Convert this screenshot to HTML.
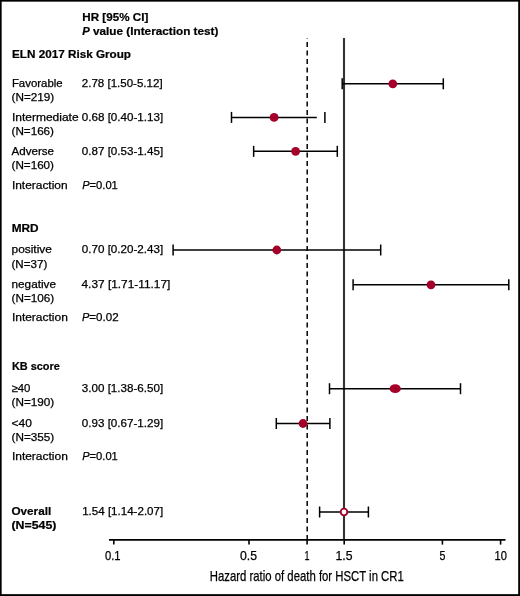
<!DOCTYPE html>
<html><head><meta charset="utf-8"><style>
html,body{margin:0;padding:0;background:#fff;}
svg{display:block;will-change:transform;}
text{font-family:"Liberation Sans",sans-serif;fill:#000;stroke:#000;stroke-width:0.25px;}
text[font-weight="bold"]{stroke-width:0.22px;}
</style></head><body>
<svg width="520" height="596" viewBox="0 0 520 596">
<rect x="0" y="0" width="520" height="596" fill="#fff"/>
<g stroke="#000" fill="none">
<line x1="307.2" y1="38" x2="307.2" y2="540" stroke-width="1.5" stroke-dasharray="5 3.5" stroke-dashoffset="4.5"/>
<line x1="344" y1="38" x2="344" y2="540" stroke-width="2.1" stroke="#333"/>
<line x1="109" y1="539.85" x2="505.5" y2="539.85" stroke-width="1.9"/>
<line x1="113.8" y1="540" x2="113.8" y2="544.6" stroke-width="1.6"/>
<line x1="249.0" y1="540" x2="249.0" y2="544.6" stroke-width="1.6"/>
<line x1="307.1" y1="540" x2="307.1" y2="544.6" stroke-width="1.6"/>
<line x1="344.2" y1="540" x2="344.2" y2="544.6" stroke-width="1.6"/>
<line x1="442.4" y1="540" x2="442.4" y2="544.6" stroke-width="1.6"/>
<line x1="500.6" y1="540" x2="500.6" y2="544.6" stroke-width="1.6"/>
<line x1="342.2" y1="83.8" x2="443.3" y2="83.8" stroke-width="1.5"/>
<line x1="342.2" y1="78.3" x2="342.2" y2="89.3" stroke-width="1.5"/>
<line x1="443.3" y1="78.3" x2="443.3" y2="89.3" stroke-width="1.5"/>
<line x1="231.5" y1="117.4" x2="316.8" y2="117.4" stroke-width="1.5"/>
<line x1="231.5" y1="111.9" x2="231.5" y2="122.9" stroke-width="1.5"/>
<line x1="324.9" y1="111.9" x2="324.9" y2="122.9" stroke-width="1.5"/>
<line x1="253.65" y1="151.35" x2="337.3" y2="151.35" stroke-width="1.5"/>
<line x1="253.65" y1="145.85" x2="253.65" y2="156.85" stroke-width="1.5"/>
<line x1="337.3" y1="145.85" x2="337.3" y2="156.85" stroke-width="1.5"/>
<line x1="173.1" y1="250.0" x2="380.7" y2="250.0" stroke-width="1.5"/>
<line x1="173.1" y1="244.5" x2="173.1" y2="255.5" stroke-width="1.5"/>
<line x1="380.7" y1="244.5" x2="380.7" y2="255.5" stroke-width="1.5"/>
<line x1="353.1" y1="284.85" x2="508.8" y2="284.85" stroke-width="1.5"/>
<line x1="353.1" y1="279.35" x2="353.1" y2="290.35" stroke-width="1.5"/>
<line x1="508.8" y1="279.35" x2="508.8" y2="290.35" stroke-width="1.5"/>
<line x1="329.5" y1="388.7" x2="460.5" y2="388.7" stroke-width="1.5"/>
<line x1="329.5" y1="383.2" x2="329.5" y2="394.2" stroke-width="1.5"/>
<line x1="460.5" y1="383.2" x2="460.5" y2="394.2" stroke-width="1.5"/>
<line x1="276.3" y1="423.5" x2="329.9" y2="423.5" stroke-width="1.5"/>
<line x1="276.3" y1="418.0" x2="276.3" y2="429.0" stroke-width="1.5"/>
<line x1="329.9" y1="418.0" x2="329.9" y2="429.0" stroke-width="1.5"/>
<line x1="319.6" y1="512.0" x2="368.4" y2="512.0" stroke-width="1.5"/>
<line x1="319.6" y1="506.5" x2="319.6" y2="517.5" stroke-width="1.5"/>
<line x1="368.4" y1="506.5" x2="368.4" y2="517.5" stroke-width="1.5"/>
</g>
<circle cx="392.8" cy="83.8" r="4.4" fill="#a5002a"/>
<circle cx="274.1" cy="117.4" r="4.4" fill="#a5002a"/>
<circle cx="295.6" cy="151.35" r="4.4" fill="#a5002a"/>
<circle cx="276.8" cy="250.0" r="4.4" fill="#a5002a"/>
<circle cx="431.0" cy="284.85" r="4.4" fill="#a5002a"/>
<circle cx="303.0" cy="423.5" r="4.4" fill="#a5002a"/>
<ellipse cx="395.2" cy="388.7" rx="5.6" ry="4.4" fill="#a5002a"/>
<circle cx="344" cy="512.0" r="3.35" fill="#fff" stroke="#a5002a" stroke-width="1.9"/>
<text x="82.30" y="20.90" font-size="11.2" font-weight="bold" font-style="normal" textLength="65.97" lengthAdjust="spacingAndGlyphs">HR [95% CI]</text>
<text x="82.30" y="35.0" font-size="11.2" font-weight="bold"><tspan font-style="italic">P</tspan><tspan textLength="128.66" lengthAdjust="spacingAndGlyphs"> value (Interaction test)</tspan></text>
<text x="12.00" y="57.70" font-size="11.2" font-weight="bold" font-style="normal" textLength="119.00" lengthAdjust="spacingAndGlyphs">ELN 2017 Risk Group</text>
<text x="11.70" y="231.70" font-size="11.2" font-weight="bold" font-style="normal" textLength="26.91" lengthAdjust="spacingAndGlyphs">MRD</text>
<text x="11.90" y="369.90" font-size="11.2" font-weight="bold" font-style="normal" textLength="47.98" lengthAdjust="spacingAndGlyphs">KB score</text>
<text x="11.50" y="515.30" font-size="11.2" font-weight="bold" font-style="normal" textLength="39.68" lengthAdjust="spacingAndGlyphs">Overall</text>
<text x="11.50" y="529.20" font-size="11.2" font-weight="bold" font-style="normal" textLength="44.97" lengthAdjust="spacingAndGlyphs">(N=545)</text>
<text x="11.90" y="87.00" font-size="11.0" font-weight="normal" font-style="normal" textLength="50.82" lengthAdjust="spacingAndGlyphs">Favorable</text>
<text x="11.50" y="101.00" font-size="11.0" font-weight="normal" font-style="normal" textLength="42.70" lengthAdjust="spacingAndGlyphs">(N=219)</text>
<text x="11.90" y="121.00" font-size="11.0" font-weight="normal" font-style="normal" textLength="66.70" lengthAdjust="spacingAndGlyphs">Intermediate</text>
<text x="11.50" y="135.20" font-size="11.0" font-weight="normal" font-style="normal" textLength="42.50" lengthAdjust="spacingAndGlyphs">(N=166)</text>
<text x="11.50" y="154.80" font-size="11.0" font-weight="normal" font-style="normal" textLength="42.50" lengthAdjust="spacingAndGlyphs">Adverse</text>
<text x="11.50" y="169.10" font-size="11.0" font-weight="normal" font-style="normal" textLength="42.50" lengthAdjust="spacingAndGlyphs">(N=160)</text>
<text x="11.90" y="189.00" font-size="11.0" font-weight="normal" font-style="normal" textLength="55.72" lengthAdjust="spacingAndGlyphs">Interaction</text>
<text x="11.50" y="253.40" font-size="11.0" font-weight="normal" font-style="normal" textLength="40.40" lengthAdjust="spacingAndGlyphs">positive</text>
<text x="11.50" y="267.50" font-size="11.0" font-weight="normal" font-style="normal" textLength="35.78" lengthAdjust="spacingAndGlyphs">(N=37)</text>
<text x="11.50" y="288.00" font-size="11.0" font-weight="normal" font-style="normal" textLength="44.49" lengthAdjust="spacingAndGlyphs">negative</text>
<text x="11.50" y="302.30" font-size="11.0" font-weight="normal" font-style="normal" textLength="42.70" lengthAdjust="spacingAndGlyphs">(N=106)</text>
<text x="11.90" y="320.90" font-size="11.0" font-weight="normal" font-style="normal" textLength="55.92" lengthAdjust="spacingAndGlyphs">Interaction</text>
<text x="11.50" y="392.20" font-size="11.0" font-weight="normal" font-style="normal" textLength="18.92" lengthAdjust="spacingAndGlyphs">≥40</text>
<text x="11.50" y="405.90" font-size="11.0" font-weight="normal" font-style="normal" textLength="42.70" lengthAdjust="spacingAndGlyphs">(N=190)</text>
<text x="11.50" y="426.60" font-size="11.0" font-weight="normal" font-style="normal" textLength="20.41" lengthAdjust="spacingAndGlyphs">&lt;40</text>
<text x="11.50" y="441.20" font-size="11.0" font-weight="normal" font-style="normal" textLength="42.70" lengthAdjust="spacingAndGlyphs">(N=355)</text>
<text x="11.90" y="459.60" font-size="11.0" font-weight="normal" font-style="normal" textLength="55.92" lengthAdjust="spacingAndGlyphs">Interaction</text>
<text x="81.80" y="87.00" font-size="11.0" font-weight="normal" font-style="normal" textLength="80.81" lengthAdjust="spacingAndGlyphs">2.78 [1.50-5.12]</text>
<text x="81.80" y="121.00" font-size="11.0" font-weight="normal" font-style="normal" textLength="81.41" lengthAdjust="spacingAndGlyphs">0.68 [0.40-1.13]</text>
<text x="81.80" y="154.80" font-size="11.0" font-weight="normal" font-style="normal" textLength="81.41" lengthAdjust="spacingAndGlyphs">0.87 [0.53-1.45]</text>
<text x="81.80" y="253.40" font-size="11.0" font-weight="normal" font-style="normal" textLength="81.41" lengthAdjust="spacingAndGlyphs">0.70 [0.20-2.43]</text>
<text x="81.50" y="288.00" font-size="11.0" font-weight="normal" font-style="normal" textLength="88.82" lengthAdjust="spacingAndGlyphs">4.37 [1.71-11.17]</text>
<text x="81.80" y="392.20" font-size="11.0" font-weight="normal" font-style="normal" textLength="81.41" lengthAdjust="spacingAndGlyphs">3.00 [1.38-6.50]</text>
<text x="81.80" y="426.60" font-size="11.0" font-weight="normal" font-style="normal" textLength="81.41" lengthAdjust="spacingAndGlyphs">0.93 [0.67-1.29]</text>
<text x="82.20" y="515.30" font-size="11.0" font-weight="normal" font-style="normal" textLength="81.01" lengthAdjust="spacingAndGlyphs">1.54 [1.14-2.07]</text>
<text x="82.20" y="189.0" font-size="11.0"><tspan font-style="italic">P</tspan><tspan textLength="28.32" lengthAdjust="spacingAndGlyphs">=0.01</tspan></text>
<text x="82.00" y="320.9" font-size="11.0"><tspan font-style="italic">P</tspan><tspan textLength="29.27" lengthAdjust="spacingAndGlyphs">=0.02</tspan></text>
<text x="82.20" y="459.6" font-size="11.0"><tspan font-style="italic">P</tspan><tspan textLength="28.32" lengthAdjust="spacingAndGlyphs">=0.01</tspan></text>
<text x="104.90" y="560.10" font-size="12.6" font-weight="normal" font-style="normal" textLength="15.61" lengthAdjust="spacingAndGlyphs">0.1</text>
<text x="240.00" y="560.10" font-size="12.6" font-weight="normal" font-style="normal" textLength="17.02" lengthAdjust="spacingAndGlyphs">0.5</text>
<text x="304.50" y="560.10" font-size="12.6" font-weight="normal" font-style="normal" textLength="5.01" lengthAdjust="spacingAndGlyphs">1</text>
<text x="335.50" y="560.10" font-size="12.6" font-weight="normal" font-style="normal" textLength="17.02" lengthAdjust="spacingAndGlyphs">1.5</text>
<text x="439.50" y="560.10" font-size="12.6" font-weight="normal" font-style="normal" textLength="5.91" lengthAdjust="spacingAndGlyphs">5</text>
<text x="494.60" y="560.10" font-size="12.6" font-weight="normal" font-style="normal" textLength="12.31" lengthAdjust="spacingAndGlyphs">10</text>
<text x="209.80" y="580.70" font-size="14.6" font-weight="normal" font-style="normal" textLength="194.00" lengthAdjust="spacingAndGlyphs">Hazard ratio of death for HSCT in CR1</text>
<rect x="0" y="0" width="1.65" height="596" fill="#000"/>
<rect x="0" y="0" width="520" height="1.65" fill="#000"/>
<rect x="518.2" y="0" width="1.8" height="596" fill="#000"/>
<rect x="0" y="594.15" width="520" height="1.85" fill="#000"/>
</svg>
</body></html>
